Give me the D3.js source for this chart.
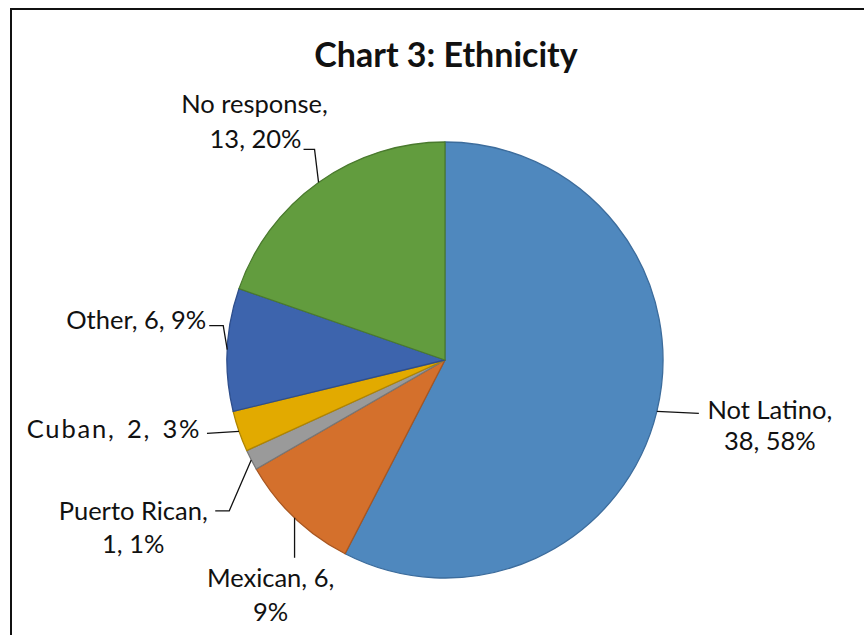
<!DOCTYPE html>
<html>
<head>
<meta charset="utf-8">
<script src="https://cdn.jsdelivr.net/npm/d3@7"></script>
<style>
  html, body { margin: 0; padding: 0; background: #fff; }
  svg { display: block; }
  text { font-family: Lato, "Open Sans", "Liberation Sans", sans-serif; fill: #111; }
</style>
</head>
<body>
<svg id="chart" width="864" height="635"></svg>
<script>
// ---- data ----
const categories = ["Not Latino", "Mexican", "Puerto Rican", "Cuban", "Other", "No response"];
const counts = [38, 6, 1, 2, 6, 13];
const percentLabels = ["58%", "9%", "1%", "3%", "9%", "20%"];
const colors = ["#4F88BE", "#D4702C", "#9A9A9A", "#E2AA00", "#3D64AD", "#629C3E"];
const strokes = ["#3C6C9C", "#A85620", "#777777", "#B08500", "#2E4E8C", "#4A7A2E"];
const title = "Chart 3: Ethnicity";

// ---- layout ----
const W = 864, H = 635;
const cx = 445, cy = 360, R = 218;
const svg = d3.select("#chart");

// frame
svg.append("rect").attr("x", 11).attr("y", 9).attr("width", W + 10).attr("height", H + 10)
  .attr("fill", "#fff").attr("stroke", "#111").attr("stroke-width", 2);

svg.append("text").attr("x", 446).attr("y", 67).attr("text-anchor", "middle")
  .style("font-weight", "bold").style("font-size", "34px").text(title);

const pie = d3.pie().sort(null).value(d => d.v);
const data = categories.map((c, i) => ({ c, v: counts[i], p: percentLabels[i], i }));
const arcs = pie(data);
const arc = d3.arc().innerRadius(0).outerRadius(R);

const g = svg.append("g").attr("transform", `translate(${cx},${cy})`);
g.selectAll("path").data(arcs).join("path")
  .attr("d", arc)
  .attr("fill", d => colors[d.data.i])
  .attr("stroke", d => strokes[d.data.i])
  .attr("stroke-width", 1.3)
  .attr("stroke-linejoin", "round");

// leader-line geometry per label (layout, relative to edge point at mid-angle)
const labelLayout = [
  { pts: [[0, 0], [42, 2]], lines: [{ dx: 113, dy: 8 }, { dx: 113, dy: 39 }], split: 1, ls: 0, ws: 0 },
  { pts: [[0, 0], [0, 40]], lines: [{ dx: -24, dy: 69 }, { dx: -24, dy: 103 }], split: 2, ls: 0, ws: 0 },
  { pts: [[0, 0], [-22, 51], [-36, 51]], lines: [{ dx: -118, dy: 60 }, { dx: -118, dy: 93 }], split: 1, ls: 0, ws: 0 },
  { pts: [[0, 0], [-32, 2]], lines: [{ dx: -125, dy: 7 }], split: 0, ls: 1.8, ws: 3 },
  { pts: [[0, 0], [-4, -24], [-18, -24]], lines: [{ dx: -91, dy: -21 }], split: 0, ls: 0, ws: 0 },
  { pts: [[0, 0], [-4, -33], [-15, -33]], lines: [{ dx: -64, dy: -69 }, { dx: -63, dy: -34 }], split: 1, ls: 0, ws: 0 }
];

const lab = svg.append("g");
arcs.forEach(d => {
  const i = d.data.i;
  const mid = (d.startAngle + d.endAngle) / 2;
  const ex = cx + R * Math.sin(mid), ey = cy - R * Math.cos(mid);
  const L = labelLayout[i];
  lab.append("path").attr("d", d3.line()(L.pts.map(p => [ex + p[0], ey + p[1]])))
    .attr("fill", "none").attr("stroke", "#111").attr("stroke-width", 1.3);
  const parts = [d.data.c + ",", String(d.data.v) + ",", d.data.p];
  let texts;
  if (L.split === 0) texts = [parts.join(" ")];
  else if (L.split === 1) texts = [parts[0], parts[1] + " " + parts[2]];
  else texts = [parts[0] + " " + parts[1], parts[2]];
  texts.forEach((t, k) => {
    lab.append("text").attr("x", ex + L.lines[k].dx).attr("y", ey + L.lines[k].dy)
      .attr("text-anchor", "middle").style("font-size", "25.5px")
      .style("letter-spacing", L.ls + "px")
      .style("word-spacing", L.ws + "px").text(t);
  });
});
</script>
</body>
</html>
